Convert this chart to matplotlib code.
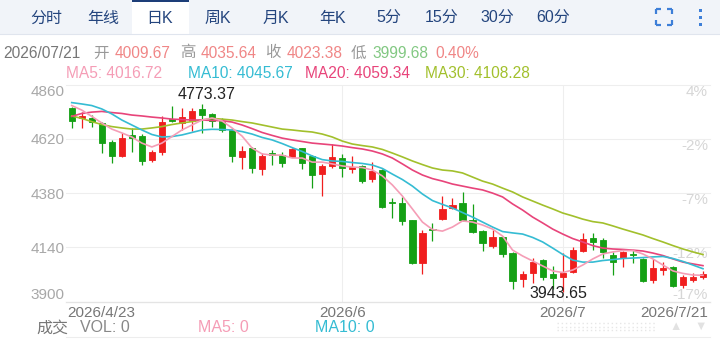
import matplotlib
matplotlib.use("Agg")
import matplotlib.pyplot as plt
from matplotlib.patches import Rectangle
from matplotlib.transforms import ScaledTranslation

plt.rcParams['font.family'] = ['Liberation Sans', 'Noto Sans CJK SC', 'DejaVu Sans']

# ===== data =====
opens = [4757, 4711, 4713, 4688, 4607, 4545, 4637, 4632, 4526, 4563,
         4707, 4690, 4700, 4752, 4730, 4698, 4659, 4541, 4581, 4486,
         4559, 4548, 4541, 4578, 4544, 4464, 4500, 4534, 4485, 4501,
         4442, 4482, 4340, 4338, 4261, 4070, 4222, 4264, 4313, 4335,
         4261, 4212, 4146, 4187, 4115, 3999, 4028, 4084, 4022, 4010,
         4033, 4124, 4180, 4173, 4106, 4092, 4110, 4087, 3996, 4040,
         4055, 3974, 3998, 4009.67]
highs = [4760, 4740, 4725, 4696, 4615, 4647, 4666, 4640, 4570, 4722,
         4765, 4755, 4755, 4773.37, 4733, 4710, 4669, 4588, 4585, 4556,
         4570, 4563, 4578, 4581, 4548, 4507, 4597, 4551, 4544, 4504,
         4516, 4485, 4357, 4361, 4263, 4217, 4246, 4368, 4357, 4386,
         4330, 4217, 4217, 4190, 4120, 4037, 4092, 4087, 4058, 4114,
         4143, 4202, 4202, 4180, 4121, 4125, 4128, 4092, 4087, 4077,
         4060, 4018, 4025, 4035.64]
lows = [4669, 4666, 4673, 4559, 4512, 4541, 4563, 4504, 4519, 4548,
        4696, 4660, 4654, 4644, 4673, 4649, 4516, 4486, 4467, 4460,
        4504, 4497, 4538, 4485, 4401, 4367, 4492, 4450, 4467, 4426,
        4430, 4313, 4268, 4239, 4065, 4022, 4170, 4261, 4308, 4257,
        4205, 4124, 4136, 4096, 3955, 3964, 3981, 3996, 3955, 3943.65,
        4025, 4121, 4128, 4092, 4018, 4055, 4070, 3986, 3981, 4018,
        3966, 3959, 3985, 3999.68]
closes = [4700, 4722, 4693, 4600, 4545, 4625, 4625, 4523, 4563, 4693,
          4698, 4715, 4744, 4725, 4698, 4659, 4545, 4566, 4490, 4544,
          4549, 4512, 4573, 4514, 4460, 4500, 4538, 4490, 4497, 4435,
          4477, 4320, 4336, 4258, 4072, 4202, 4218, 4308, 4327, 4261,
          4209, 4161, 4187, 4111, 3993, 4021, 4077, 4008, 4003, 4026,
          4128, 4176, 4165, 4120, 4077, 4121, 4105, 3993, 4048, 4050,
          3971, 4011, 4007.35, 4023.38]

ma5 = [4767, 4747, 4719, 4690, 4663, 4646, 4628, 4601, 4584, 4601,
       4630, 4659, 4681, 4703, 4712, 4699, 4668, 4632, 4579, 4553,
       4548, 4548, 4535, 4535, 4517, 4517, 4509, 4500, 4495, 4493,
       4482, 4456, 4416, 4367, 4310, 4252, 4219, 4212, 4230, 4257,
       4252, 4239, 4221, 4190, 4128, 4102, 4080, 4058, 4036, 4029,
       4040, 4062, 4089, 4111, 4120, 4126, 4126, 4111, 4089, 4062,
       4036, 4025, 4018, 4016.72]
ma10 = [4780, 4774, 4767, 4752, 4730, 4703, 4681, 4659, 4639, 4628,
        4630, 4637, 4648, 4659, 4662, 4661, 4659, 4652, 4641, 4626,
        4615, 4599, 4581, 4564, 4544, 4528, 4522, 4520, 4515, 4511,
        4504, 4489, 4464, 4440, 4411, 4376, 4347, 4330, 4314, 4294,
        4274, 4252, 4230, 4210, 4204, 4199, 4184, 4164, 4137, 4109,
        4084, 4075, 4075, 4082, 4086, 4091, 4093, 4095, 4098, 4100,
        4091, 4078, 4062, 4045.67]
ma20 = [4719, 4732, 4738, 4741, 4736, 4732, 4725, 4721, 4716, 4712,
        4707, 4705, 4703, 4703, 4701, 4700, 4694, 4681, 4665, 4648,
        4635, 4623, 4615, 4608, 4601, 4597, 4593, 4588, 4581, 4575,
        4566, 4553, 4535, 4509, 4482, 4460, 4444, 4433, 4420, 4411,
        4402, 4394, 4380, 4363, 4332, 4305, 4274, 4248, 4221, 4199,
        4179, 4164, 4148, 4137, 4133, 4131, 4128, 4124, 4115, 4104,
        4089, 4075, 4067, 4059.34]
ma30 = [4721, 4710, 4696, 4683, 4674, 4668, 4663, 4663, 4668, 4674,
        4683, 4690, 4696, 4703, 4710, 4707, 4703, 4696, 4690, 4681,
        4672, 4663, 4659, 4654, 4650, 4641, 4628, 4610, 4597, 4590,
        4584, 4573, 4557, 4540, 4522, 4506, 4491, 4482, 4478, 4469,
        4451, 4433, 4420, 4402, 4385, 4363, 4345, 4327, 4310, 4292,
        4279, 4265, 4254, 4248, 4235, 4221, 4208, 4195, 4179, 4164,
        4148, 4133, 4120, 4108.28]

date_ticks = [0, 27, 49, 63]
date_labels = ['2026/4/23', '2026/6', '2026/7', '2026/7/21']
price_ticks = [4860, 4620, 4380, 4140, 3900]
pct_labels = ['4%', '-2%', '-7%', '-12%', '-17%']
tabs = ['分时', '年线', '日K', '周K', '月K', '年K', '5分', '15分', '30分', '60分']
tab_x = [46, 103, 160, 218, 276, 333, 389, 442, 497, 553]

RED, GREEN = '#F01E1E', '#14A014'
C_MA5, C_MA10, C_MA20, C_MA30 = '#F59DB6', '#35BCD3', '#E8447A', '#A2C02C'

fig = plt.figure(figsize=(7.2, 3.4), dpi=100)

# ===== background layer in pixel coords =====
bg = fig.add_axes([0, 0, 1, 1])
bg.set_xlim(0, 720); bg.set_ylim(340, 0); bg.axis('off')
bg.add_patch(Rectangle((0, 0), 720, 33.5, color='#F1F4F9', lw=0))
bg.plot([0, 720], [33.5, 33.5], color='#E0E5EE', lw=0.8)
bg.add_patch(Rectangle((131.5, 0), 57, 34.2, color='white', lw=0))
bg.add_patch(Rectangle((131.5, 0), 57, 2, color='#1D3E78', lw=0))
for t, x in zip(tabs, tab_x):
    bg.text(x, 18, t, ha='center', va='center', fontsize=11.5, color='#24457E')
# fullscreen icon + kebab
ic = '#3E7FD8'
for (cx, cy, dx, dy) in [(656, 9, 1, 1), (672, 9, -1, 1), (656, 25, 1, -1), (672, 25, -1, -1)]:
    bg.plot([cx, cx + 5 * dx], [cy, cy], color=ic, lw=1.6, solid_capstyle='butt')
    bg.plot([cx, cx], [cy, cy + 5 * dy], color=ic, lw=1.6, solid_capstyle='butt')
for yy in [10, 17, 24]:
    bg.add_patch(Rectangle((698.5, yy - 1.5), 3, 3, color=ic, lw=0))

# header line
hdr = [(3, '2026/07/21', '#777777'), (93, '开', '#999999'), (115, '4009.67', '#F08686'),
       (180, '高', '#999999'), (201, '4035.64', '#F08686'), (265, '收', '#999999'),
       (287, '4023.38', '#F08686'), (351, '低', '#999999'), (372, '3999.68', '#82C882'),
       (435, '0.40%', '#F08686')]
for x, s, c in hdr:
    bg.text(x, 53, s, ha='left', va='center', fontsize=11.2, color=c)
ma_hdr = [(66, 'MA5: 4016.72', C_MA5), (188, 'MA10: 4045.67', C_MA10),
          (305, 'MA20: 4059.34', C_MA20), (425, 'MA30: 4108.28', C_MA30)]
for x, s, c in ma_hdr:
    bg.text(x, 73, s, ha='left', va='center', fontsize=11.2, color=c)

# bottom volume row
bg.text(36, 328, '成交', ha='left', va='center', fontsize=11.5, color='#777777')
bg.text(80, 328, 'VOL: 0', ha='left', va='center', fontsize=11.5, color='#888888')
bg.text(198, 328, 'MA5: 0', ha='left', va='center', fontsize=11.5, color=C_MA5)
bg.text(315, 328, 'MA10: 0', ha='left', va='center', fontsize=11.5, color=C_MA10)
bg.plot([66, 710], [337, 337], color='#EDEDED', lw=0.8)
for yy in [323, 326.5, 330]:
    bg.plot([557, 655], [yy, yy], color='#E6E6E6', lw=1, dashes=(1, 2))
bg.text(676, 327, '▲', ha='center', va='center', fontsize=9, color='#E2E2E2')
bg.text(701, 327, '▼', ha='center', va='center', fontsize=9, color='#E2E2E2')

# ===== candle chart =====
ax = fig.add_axes([66 / 720, (340 - 301.7) / 340, 644 / 720, (301.7 - 84.5) / 340])
ax.set_facecolor('none')
n = len(closes)
xs = list(range(n))
cols = [RED if c >= o else GREEN for o, c in zip(opens, closes)]
ax.vlines(xs, lows, highs, colors=cols, lw=0.9, zorder=3)
ax.bar(xs, [c - o for o, c in zip(opens, closes)], bottom=opens, width=0.62,
       color=cols, edgecolor=cols, lw=0.6, zorder=3)
for vals, c in [(ma30, C_MA30), (ma20, C_MA20), (ma10, C_MA10), (ma5, C_MA5)]:
    ax.plot(xs, vals, color=c, lw=1.2, zorder=4)

ax.set_xlim(-0.57, 63.7)
ax.set_ylim(3900, 4860)
for s in ax.spines.values():
    s.set_visible(False)
ax.set_yticks(price_ticks)
ax.set_yticklabels([str(v) for v in price_ticks])
ax.tick_params(axis='y', length=0, pad=1, labelsize=11, labelcolor='#A8A8A8')
ylabs = ax.get_yticklabels()
ylabs[0].set_verticalalignment('top')
ylabs[-1].set_verticalalignment('bottom')
for v in price_ticks:
    ax.axhline(v, color='#EEEEEE', lw=0.8, zorder=0, clip_on=False)
ax.axhline(3900, color='#E4E4E4', lw=0.9, zorder=1, clip_on=False)
for i in date_ticks[1:-1]:
    ax.axvline(i, color='#EEEEEE', lw=0.8, zorder=0)

ax.set_xticks(date_ticks)
ax.set_xticklabels(date_labels)
ax.tick_params(axis='x', length=0, pad=3, labelsize=11, labelcolor='#777777')
xlabs = ax.get_xticklabels()
xlabs[0].set_horizontalalignment('left')
xlabs[-1].set_horizontalalignment('right')
xlabs[0].set_transform(xlabs[0].get_transform() + ScaledTranslation(-4 / 100, 0, fig.dpi_scale_trans))
xlabs[-1].set_transform(xlabs[-1].get_transform() + ScaledTranslation(5 / 100, 0, fig.dpi_scale_trans))

ytr = ax.get_yaxis_transform()
for v, s in zip(price_ticks, pct_labels):
    va = 'bottom' if v == price_ticks[-1] else 'top'
    ax.text(0.997, v, s, transform=ytr, ha='right', va=va, fontsize=11, color='#D6D6D6')

# max / min annotations
imax = highs.index(max(highs)); imin = lows.index(min(lows))
ax.annotate(f'{highs[imax]:.2f}', (imax, highs[imax]), xytext=(5, 2),
            textcoords='offset pixels', ha='center', va='bottom', fontsize=11.5, color='#222222')
ax.annotate(f'{lows[imin]:.2f}', (imin, lows[imin]), xytext=(-4, -2),
            textcoords='offset pixels', ha='center', va='center', fontsize=11.5, color='#222222')

fig.savefig('out.png', dpi=100)
